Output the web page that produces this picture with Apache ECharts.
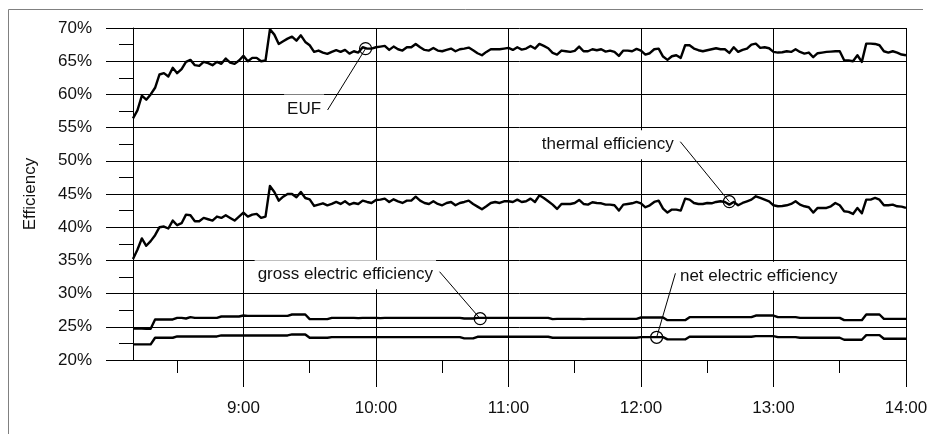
<!DOCTYPE html>
<html><head><meta charset="utf-8">
<script src="https://cdn.jsdelivr.net/npm/echarts@6/dist/echarts.min.js"></script>
<style>html,body{margin:0;padding:0;background:#fff}#c{width:932px;height:434px}</style>
</head><body><div id="c"></div>
<script>
// time in minutes after midnight (8:10 .. 14:00, 2-minute samples)
const times = [
490,492,494,496,498,500,502,504,506,508,
510,512,514,516,518,520,522,524,526,528,
530,532,534,536,538,540,542,544,546,548,
550,552,554,556,558,560,562,564,566,568,
570,572,574,576,578,580,582,584,586,588,
590,592,594,596,598,600,602,604,606,608,
610,612,614,616,618,620,622,624,626,628,
630,632,634,636,638,640,642,644,646,648,
650,652,654,656,658,660,662,664,666,668,
670,672,674,676,678,680,682,684,686,688,
690,692,694,696,698,700,702,704,706,708,
710,712,714,716,718,720,722,724,726,728,
730,732,734,736,738,740,742,744,746,748,
750,752,754,756,758,760,762,764,766,768,
770,772,774,776,778,780,782,784,786,788,
790,792,794,796,798,800,802,804,806,808,
810,812,814,816,818,820,822,824,826,828,
830,832,834,836,838,840];

const euf = [
56.4,57.6,59.8,59.2,60.0,61.0,63.0,63.2,62.7,64.0,
63.2,63.8,64.9,65.2,64.4,64.3,64.9,64.7,64.4,64.9,
64.6,65.4,64.8,64.6,65.1,65.8,65.0,65.5,65.5,65.0,
65.1,69.8,69.0,67.6,68.0,68.4,68.7,68.1,68.9,67.9,
67.4,66.4,66.6,66.3,66.1,66.4,66.65,66.4,66.7,66.15,
66.5,66.3,67.1,66.9,66.9,67.1,67.2,67.3,66.7,67.2,
66.8,66.6,67.1,67.1,67.6,67.1,66.7,66.6,67.0,66.6,
66.5,66.7,66.9,66.5,66.8,66.9,67.05,66.65,66.2,65.9,
66.4,66.8,66.8,66.8,66.9,67.0,66.7,67.1,66.75,66.9,
67.3,66.9,67.6,67.3,66.95,66.25,66.0,66.6,66.5,66.4,
66.55,67.2,66.5,66.5,66.8,66.65,66.8,66.45,66.6,66.4,
65.8,66.6,66.6,66.5,66.85,66.6,66.0,66.2,66.8,66.9,
65.7,65.2,65.75,65.9,65.5,67.4,67.4,66.9,66.65,66.5,
66.65,66.8,66.95,66.8,66.8,66.25,67.1,66.4,66.7,66.9,
67.5,67.65,67.0,67.1,66.95,66.4,66.3,66.35,66.5,66.4,
66.8,66.4,66.15,66.3,65.6,66.2,66.3,66.4,66.45,66.5,
66.5,65.15,65.1,65.0,65.9,64.9,67.65,67.65,67.6,67.4,
66.5,66.3,66.5,66.3,66.0,65.9];

const thermal = [
35.2,36.6,38.3,37.2,37.9,38.8,40.0,40.1,39.8,41.0,
40.3,40.6,41.9,41.8,40.9,40.9,41.4,41.2,41.0,41.6,
41.4,41.8,41.4,41.0,41.6,42.2,41.6,41.9,42.0,41.4,
41.6,46.2,45.3,44.0,44.6,45.0,45.0,44.5,45.3,44.4,
44.2,43.2,43.4,43.6,43.3,43.5,43.8,43.5,43.9,43.4,
43.65,43.5,44.0,43.8,43.65,44.1,44.15,44.3,43.8,44.2,
43.9,43.65,44.0,44.0,44.6,44.0,43.65,43.5,43.9,43.5,
43.3,43.65,43.8,43.3,43.65,43.8,44.0,43.5,43.1,42.7,
43.15,43.65,43.8,43.65,43.9,43.9,43.8,44.15,43.8,43.9,
44.3,43.8,44.8,44.4,43.9,43.4,42.75,43.5,43.5,43.5,
43.65,44.1,43.5,43.4,43.75,43.65,43.6,43.4,43.4,43.3,
42.5,43.4,43.5,43.6,43.8,43.6,43.0,43.3,43.8,44.0,
42.8,42.2,42.65,42.65,42.5,44.3,44.15,43.65,43.5,43.5,
43.65,43.6,43.8,43.9,43.8,43.4,43.8,43.3,43.65,43.9,
44.15,44.65,44.4,44.15,43.9,43.3,43.15,43.2,43.3,43.5,
43.9,43.4,43.15,43.0,42.2,42.9,42.9,42.9,43.15,43.65,
43.3,42.4,42.3,42.0,42.9,42.1,44.15,44.15,44.4,44.15,
43.3,43.3,43.4,43.15,43.1,42.9];

const grossElectric = [
24.75,24.75,24.75,24.7,24.7,26.1,26.1,26.1,26.1,26.1,
26.35,26.35,26.25,26.45,26.35,26.35,26.35,26.35,26.35,26.35,
26.55,26.55,26.55,26.55,26.55,26.7,26.65,26.65,26.65,26.65,
26.65,26.65,26.65,26.65,26.65,26.65,26.85,26.85,26.85,26.85,
26.15,26.15,26.15,26.15,26.15,26.35,26.35,26.35,26.35,26.35,
26.35,26.3,26.35,26.35,26.35,26.35,26.3,26.35,26.35,26.35,
26.35,26.35,26.35,26.35,26.35,26.35,26.35,26.35,26.35,26.35,
26.35,26.35,26.35,26.35,26.35,26.25,26.25,26.25,26.35,26.35,
26.35,26.35,26.35,26.35,26.35,26.35,26.35,26.35,26.35,26.35,
26.35,26.35,26.35,26.35,26.35,26.15,26.2,26.2,26.2,26.2,
26.2,26.2,26.15,26.2,26.2,26.2,26.2,26.2,26.2,26.2,
26.2,26.2,26.2,26.2,26.2,26.4,26.4,26.4,26.4,26.4,
26.4,26.0,26.0,26.0,26.0,26.0,26.45,26.45,26.45,26.45,
26.45,26.45,26.45,26.45,26.45,26.45,26.45,26.45,26.45,26.45,
26.45,26.7,26.7,26.7,26.7,26.7,26.45,26.45,26.45,26.45,
26.45,26.35,26.35,26.35,26.35,26.35,26.35,26.35,26.35,26.35,
26.35,26.0,26.0,26.0,26.0,26.0,26.85,26.85,26.85,26.85,
26.2,26.2,26.2,26.2,26.2,26.2];

const netElectric = [
22.35,22.35,22.35,22.35,22.35,23.35,23.35,23.35,23.35,23.35,
23.55,23.55,23.55,23.55,23.55,23.55,23.55,23.55,23.55,23.55,
23.7,23.7,23.7,23.7,23.7,23.7,23.7,23.7,23.7,23.7,
23.7,23.7,23.7,23.7,23.7,23.7,23.85,23.85,23.85,23.85,
23.35,23.35,23.35,23.35,23.35,23.45,23.45,23.45,23.45,23.45,
23.45,23.45,23.45,23.45,23.45,23.45,23.45,23.45,23.45,23.45,
23.45,23.45,23.45,23.45,23.45,23.45,23.45,23.45,23.45,23.45,
23.45,23.45,23.45,23.45,23.45,23.25,23.25,23.25,23.5,23.5,
23.5,23.5,23.5,23.5,23.5,23.5,23.5,23.5,23.5,23.5,
23.5,23.5,23.5,23.5,23.5,23.35,23.35,23.35,23.35,23.35,
23.35,23.35,23.35,23.35,23.35,23.35,23.35,23.35,23.35,23.35,
23.35,23.35,23.35,23.35,23.35,23.45,23.45,23.45,23.45,23.45,
23.45,23.1,23.1,23.1,23.1,23.1,23.5,23.5,23.5,23.5,
23.5,23.5,23.5,23.5,23.5,23.5,23.5,23.5,23.5,23.5,
23.5,23.6,23.6,23.6,23.6,23.6,23.45,23.45,23.45,23.45,
23.45,23.35,23.35,23.35,23.35,23.35,23.35,23.35,23.35,23.35,
23.35,23.05,23.05,23.05,23.05,23.05,23.75,23.75,23.75,23.75,
23.2,23.2,23.2,23.2,23.2,23.2];

const hourTicks = [540, 600, 660, 720, 780, 840];
const halfHourTicks = [510, 570, 630, 690, 750, 810];

// callouts: label text, marked point on the curve, end of the leader line (data units)
const calloutNames = ['EUF', 'thermal efficiency', 'gross electric efficiency', 'net electric efficiency'];
const calloutPoints = [[595.3, 66.9], [760, 43.84], [647.2, 26.22], [727.1, 23.42]];
const calloutEnds = [[578.1, 57.65], [737.8, 52.88], [628.8, 33.3], [735.6, 33.06]];
const calloutSides = ['left', 'left', 'left', 'right'];

const FONT = '"Liberation Sans", Arial, Helvetica, sans-serif';
const fmtTime = v => Math.floor(v / 60) + ':' + String(v % 60).padStart(2, '0');
const pairs = vals => times.map((t, i) => [t, vals[i]]);

const dataSeries = [euf, thermal, grossElectric, netElectric].map((vals, i) => ({
  type: 'line', name: calloutNames[i], xAxisIndex: 0, yAxisIndex: 0,
  data: pairs(vals), showSymbol: false, symbol: 'none', smooth: false,
  lineStyle: { color: '#000', width: 2.4, join: 'round' }, silent: true, z: 3
}));

const calloutSeries = calloutNames.map((name, i) => ({
  type: 'line', xAxisIndex: 0, yAxisIndex: 0, silent: true, z: 4,
  lineStyle: { color: '#000', width: 1 },
  data: [
    { value: calloutPoints[i], symbol: 'circle', symbolSize: 12,
      itemStyle: { color: 'rgba(0,0,0,0)', borderColor: '#000', borderWidth: 1.2 } },
    { value: calloutEnds[i], symbol: 'circle', symbolSize: 1,
      itemStyle: { color: 'rgba(0,0,0,0)', borderWidth: 0 },
      label: { show: true, position: calloutSides[i], distance: calloutSides[i] === 'left' ? 3 : 1,
        offset: i === 0 ? [0, -1] : [0, 3],
        formatter: name, fontFamily: FONT, fontSize: 17, color: '#111',
        backgroundColor: '#fff', padding: [6, 3] } }
  ]
}));

const chart = echarts.init(document.getElementById('c'), null, { renderer: 'canvas' });
chart.setOption({
  animation: false,
  backgroundColor: '#fff',
  grid: { left: 133, right: 26, top: 28, bottom: 74, containLabel: false },
  xAxis: [
    { type: 'value', min: 490, max: 840, position: 'bottom',
      axisLine: { show: true, onZero: false, lineStyle: { color: '#000', width: 1 } },
      axisTick: { show: true, customValues: hourTicks, length: 27, lineStyle: { color: '#000', width: 1 } },
      axisLabel: { show: true, customValues: hourTicks, formatter: fmtTime, margin: 40,
        fontFamily: FONT, fontSize: 17, color: '#111' },
      splitLine: { show: true, lineStyle: { color: '#000', width: 1 } } },
    { type: 'value', min: 490, max: 840, position: 'top', offset: -332,
      axisLine: { show: false },
      axisTick: { show: true, inside: true, customValues: halfHourTicks, length: 13, lineStyle: { color: '#000', width: 1 } },
      axisLabel: { show: false },
      splitLine: { show: false } }
  ],
  yAxis: {
    type: 'value', min: 20, max: 70, interval: 5,
    name: 'Efficiency', nameLocation: 'middle', nameGap: 94, nameRotate: 90,
    nameTextStyle: { fontFamily: FONT, fontSize: 17, color: '#111' },
    axisLine: { show: true, onZero: false, lineStyle: { color: '#000', width: 1 } },
    axisTick: { show: true, length: 27, lineStyle: { color: '#000', width: 1 } },
    minorTick: { show: true, splitNumber: 2, length: 14, lineStyle: { color: '#000', width: 1 } },
    minorSplitLine: { show: false },
    axisLabel: { formatter: '{value}%', margin: 41, fontFamily: FONT, fontSize: 17, color: '#111' },
    splitLine: { show: true, lineStyle: { color: '#000', width: 1 } }
  },
  graphic: [{
    type: 'polyline', silent: true, z: -1,
    shape: { points: [[8.5, 434], [8.5, 9.5], [923, 9.5]] },
    style: { stroke: '#808080', lineWidth: 1, fill: null }
  }],
  series: dataSeries.concat(calloutSeries)
});
</script>
</body></html>
